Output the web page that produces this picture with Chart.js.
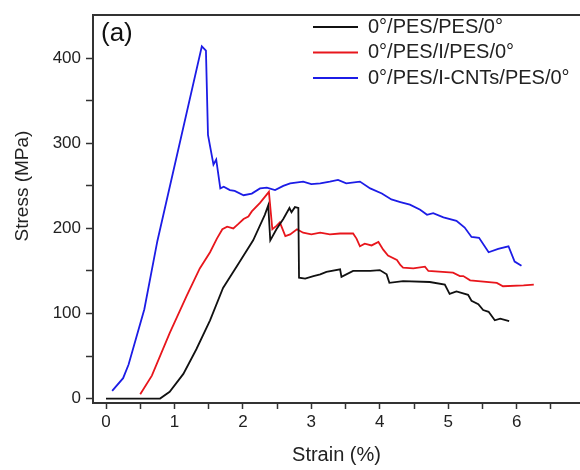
<!DOCTYPE html>
<html>
<head>
<meta charset="utf-8">
<script src="https://cdn.jsdelivr.net/npm/chart.js@4.4.0/dist/chart.umd.min.js"></script>
<style>
    html, body { margin: 0; padding: 0; background: #fff; overflow: hidden; }
</style>
</head>
<body>
<canvas id="graficoTracao" width="580" height="470"></canvas>
<script>
// Curva 0°/PES/PES/0° (preta)
const blackStrain = [0.00, 0.79, 0.93, 1.13, 1.32, 1.52, 1.71, 1.93, 2.15, 2.32, 2.37, 2.40, 2.49, 2.59, 2.68, 2.71, 2.76, 2.81, 2.82, 2.91, 3.03, 3.13, 3.22, 3.42, 3.44, 3.61, 3.86, 4.00, 4.10, 4.14, 4.34, 4.73, 4.95, 5.02, 5.12, 5.29, 5.34, 5.44, 5.51, 5.59, 5.68, 5.76, 5.89];
const blackStress = [0, 0, 8, 29, 58, 92, 130, 158, 186, 216, 227, 186, 199, 211, 224, 219, 225, 224, 142, 141, 144, 146, 149, 152, 143, 150, 150, 151, 146, 136, 138, 137, 134, 123, 126, 122, 115, 111, 104, 102, 92, 94, 91];

// Curva 0°/PES/I/PES/0° (vermelha)
const redStrain = [0.50, 0.67, 0.93, 1.18, 1.37, 1.52, 1.62, 1.70, 1.77, 1.86, 1.93, 2.01, 2.08, 2.13, 2.25, 2.38, 2.43, 2.49, 2.54, 2.62, 2.69, 2.79, 2.88, 3.00, 3.13, 3.27, 3.42, 3.61, 3.66, 3.71, 3.78, 3.88, 3.98, 4.05, 4.12, 4.25, 4.30, 4.34, 4.49, 4.66, 4.71, 5.07, 5.17, 5.22, 5.32, 5.71, 5.80, 6.10, 6.25];
const redStress = [5, 27, 77, 121, 153, 172, 188, 199, 202, 200, 205, 211, 214, 220, 230, 243, 199, 203, 207, 191, 193, 199, 195, 193, 195, 193, 194, 194, 188, 179, 182, 180, 184, 175, 168, 163, 157, 154, 153, 155, 150, 148, 144, 144, 139, 136, 132, 133, 134];

// Curva 0°/PES/I-CNTs/PES/0° (azul)
const blueStrain = [0.09, 0.25, 0.33, 0.56, 0.75, 1.40, 1.46, 1.49, 1.57, 1.61, 1.67, 1.72, 1.81, 1.88, 2.01, 2.13, 2.25, 2.35, 2.47, 2.59, 2.69, 2.88, 3.00, 3.13, 3.27, 3.39, 3.51, 3.71, 3.86, 4.03, 4.17, 4.30, 4.44, 4.59, 4.69, 4.78, 4.93, 5.12, 5.24, 5.34, 5.45, 5.59, 5.73, 5.88, 5.97, 6.07];
const blueStress = [9, 24, 40, 105, 185, 414, 409, 310, 275, 281, 247, 249, 245, 244, 239, 241, 247, 248, 245, 250, 253, 255, 252, 253, 255, 257, 253, 255, 247, 241, 234, 231, 228, 222, 216, 218, 213, 209, 201, 190, 189, 172, 176, 179, 161, 156];

const seriesLabels = ['0°/PES/PES/0°', '0°/PES/I/PES/0°', '0°/PES/I-CNTs/PES/0°'];
const seriesColors = ['#111111', '#e8161c', '#1c1ce6'];

// Marcas dos eixos
const xTicks = [0, 0.5, 1, 1.5, 2, 2.5, 3, 3.5, 4, 4.5, 5, 5.5, 6, 6.5];
const yTicks = [0, 50, 100, 150, 200, 250, 300, 350, 400];

const FONT = "'Liberation Sans', Arial, sans-serif";
const AXIS = '#333333';

function toPoints(xs, ys) {
    return xs.map((x, i) => ({ x: x, y: ys[i] }));
}

const curves = [
    toPoints(blackStrain, blackStress),
    toPoints(redStrain, redStress),
    toPoints(blueStrain, blueStress)
];

//Plugin para legenda posicionada, "(a)" e título do eixo y
const extras = {
    id: 'extras',
    afterLayout(chart) {
        const pad = chart.options.plugins.legend.labels.padding;
        chart.legend.left = 313 - pad;
        chart.legend.top = 27 - 10 - pad;
    },
    afterDraw(chart) {
        const ctx = chart.ctx;
        ctx.save();
        ctx.fillStyle = '#111';
        ctx.font = '26px ' + FONT;
        ctx.textAlign = 'left';
        ctx.textBaseline = 'middle';
        ctx.fillText('(a)', 101, 34);

        ctx.translate(23, 186);
        ctx.rotate(-Math.PI / 2);
        ctx.font = '19px ' + FONT;
        ctx.fillStyle = '#222';
        ctx.textAlign = 'center';
        ctx.fillText('Stress (MPa)', 0, 0);
        ctx.restore();
    }
};

const ctx = document.getElementById('graficoTracao').getContext('2d');
new Chart(ctx, {
    type: 'line',
    data: {
        datasets: curves.map((pts, i) => ({
            label: seriesLabels[i],
            data: pts,
            borderColor: seriesColors[i],
            backgroundColor: seriesColors[i],
            borderWidth: 1.8,
            pointRadius: 0,
            tension: 0,
            fill: false
        }))
    },
    options: {
        responsive: false,
        animation: false,
        layout: { padding: 0 },
        plugins: {
            tooltip: { enabled: false },
            legend: {
                position: 'chartArea',
                align: 'start',
                labels: {
                    boxWidth: 45,
                    boxHeight: 2,
                    padding: 5.5,
                    color: '#222',
                    font: { family: FONT, size: 20 },
                    generateLabels: (chart) =>
                        Chart.defaults.plugins.legend.labels.generateLabels(chart)
                            .map(l => ({ ...l, fillStyle: l.strokeStyle, lineWidth: 0 }))
                }
            }
        },
        scales: {
            x: {
                type: 'linear',
                position: 'bottom',
                min: -0.19,
                max: 6.925,
                afterFit: (s) => { s.height = 67; },
                afterBuildTicks: (s) => { s.ticks = xTicks.map(v => ({ value: v })); },
                ticks: {
                    autoSkip: false,
                    maxRotation: 0,
                    padding: 3,
                    color: '#222',
                    font: { family: FONT, size: 17 },
                    callback: (v) => Number.isInteger(v) ? v : ''
                },
                grid: { drawOnChartArea: false, tickLength: 6, tickWidth: 1.5, tickColor: AXIS },
                border: { color: AXIS, width: 2 },
                title: {
                    display: true,
                    text: 'Strain (%)',
                    color: '#222',
                    font: { family: FONT, size: 20 },
                    padding: { top: 0, bottom: 3 }
                }
            },
            xTop: {
                type: 'linear',
                position: 'top',
                min: -0.19,
                max: 6.925,
                afterFit: (s) => { s.height = 6; },
                ticks: { display: false },
                grid: { drawOnChartArea: false, drawTicks: false },
                border: { color: AXIS, width: 2 }
            },
            y: {
                type: 'linear',
                min: -5.2,
                max: 450.6,
                afterFit: (s) => { s.width = 93; },
                afterBuildTicks: (s) => { s.ticks = yTicks.map(v => ({ value: v })); },
                ticks: {
                    autoSkip: false,
                    padding: 5,
                    color: '#222',
                    font: { family: FONT, size: 17 },
                    callback: (v) => v % 100 === 0 ? v : ''
                },
                grid: { drawOnChartArea: false, tickLength: 7, tickWidth: 1.5, tickColor: AXIS },
                border: { color: AXIS, width: 2 }
            }
        }
    },
    plugins: [extras]
});
</script>
</body>
</html>
